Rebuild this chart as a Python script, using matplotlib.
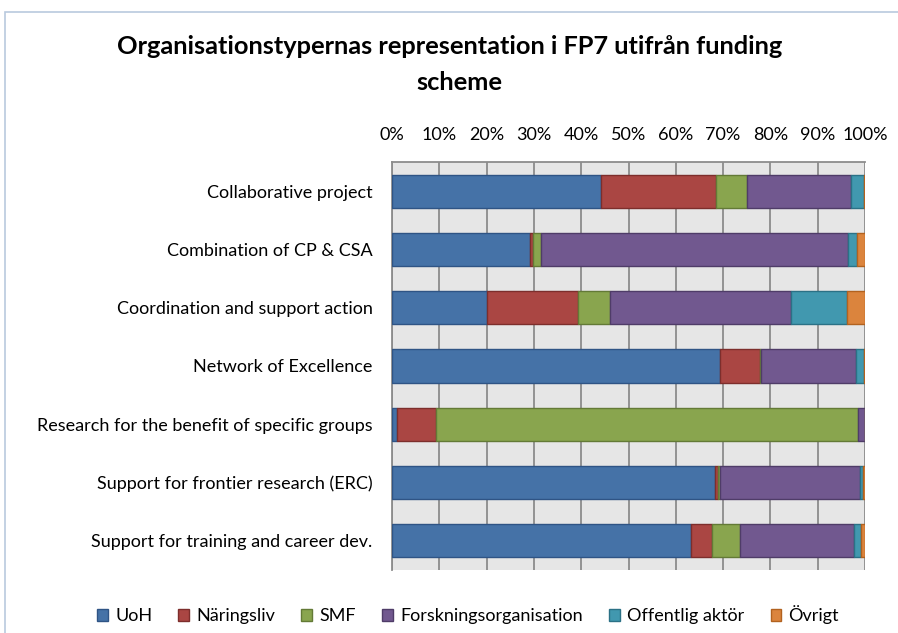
import numpy as np
import matplotlib.pyplot as plt
from matplotlib.patches import Rectangle, Patch
from matplotlib.ticker import FuncFormatter

plt.rcParams['font.family'] = ['Lato', 'DejaVu Sans']

schemes = ['Collaborative project',
           'Combination of CP & CSA',
           'Coordination and support action',
           'Network of Excellence',
           'Research for the benefit of specific groups',
           'Support for frontier research (ERC)',
           'Support for training and career dev.']

org_types = ['UoH', 'Näringsliv', 'SMF', 'Forskningsorganisation',
             'Offentlig aktör', 'Övrigt']

# share in % per scheme, one list per organisation type
uoh = [44.2, 29.2, 20.0, 69.4, 1.1, 68.2, 63.2]
naringsliv = [24.3, 0.6, 19.4, 8.3, 8.2, 0.7, 4.4]
smf = [6.6, 1.7, 6.7, 0.3, 89.3, 0.5, 6.0]
forskning = [21.9, 64.9, 38.3, 20.0, 1.4, 29.6, 24.1]
offentlig = [2.7, 1.9, 11.7, 1.8, 0.0, 0.6, 1.5]
ovrigt = [0.3, 1.7, 3.9, 0.2, 0.0, 0.4, 0.8]

series = [uoh, naringsliv, smf, forskning, offentlig, ovrigt]
colors = ['#4572a7', '#aa4643', '#89a54e', '#71588f', '#4198af', '#db843d']
edges = ['#2f5485', '#7d2e2c', '#637a36', '#4f3c68', '#2b7186', '#b2621f']

fig = plt.figure(figsize=(8.98, 6.33), dpi=100)
# chart border (light blue)
fig.patches.append(Rectangle((5 / 898, -0.5), 2, 1 - 12 / 633 + 0.5,
                             transform=fig.transFigure, fill=False,
                             edgecolor='#b9c9de', linewidth=1.2))

ax = fig.add_axes([392 / 898, 1 - 570 / 633, 473 / 898, 408 / 633])
ax.set_facecolor('#e6e6e6')

y = np.arange(len(schemes))
left = np.zeros(len(schemes))
for vals, c, ec, name in zip(series, colors, edges, org_types):
    vals = np.array(vals)
    ax.barh(y, vals, left=left, height=0.57, color=c, edgecolor=ec,
            linewidth=1.0, label=name, zorder=3)
    left += vals

ax.set_xlim(0, 100)
ax.set_ylim(len(schemes) - 0.5, -0.5)
ax.set_xticks(np.arange(0, 101, 10))
ax.xaxis.set_major_formatter(FuncFormatter(lambda v, p: '{:d}%'.format(int(v))))
ax.xaxis.tick_top()
ax.set_yticks(y)
ax.set_yticklabels(schemes)
ax.tick_params(axis='x', length=0, pad=14, labelsize=13)
ax.tick_params(axis='y', length=0, pad=14, labelsize=13)
ax.grid(axis='x', color='#8c8c8c', linewidth=1.3, zorder=0)
ax.set_axisbelow(True)
for s in ['left', 'top']:
    ax.spines[s].set_color('#8c8c8c')
    ax.spines[s].set_linewidth(1.3)
ax.spines['right'].set_visible(False)
ax.spines['bottom'].set_visible(False)

fig.text(0.501, 1 - 47 / 633, 'Organisationstypernas representation i FP7 utifrån funding',
         ha='center', va='center', fontsize=18.3, fontweight='bold')
fig.text(0.511, 1 - 82 / 633, 'scheme',
         ha='center', va='center', fontsize=18.3, fontweight='bold')

handles = [Patch(facecolor=c, edgecolor=ec, linewidth=1.0) for c, ec in zip(colors, edges)]
fig.legend(handles, org_types, loc='center', bbox_to_anchor=(468 / 898, 1 - 615 / 633),
           ncol=6, frameon=False, fontsize=13, handlelength=0.6, handleheight=0.6,
           handletextpad=0.4, columnspacing=1.45)

plt.savefig('out.png', dpi=100)
